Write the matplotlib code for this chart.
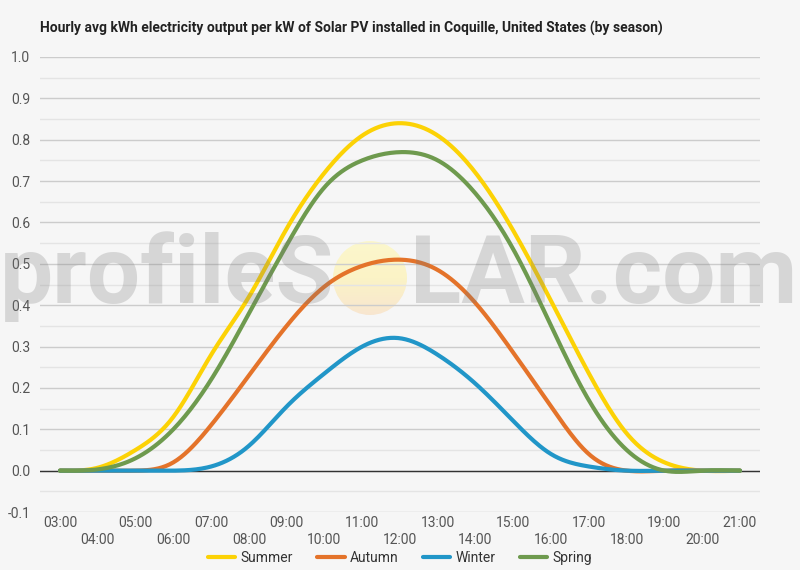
import numpy as np
import matplotlib
matplotlib.use("Agg")
import matplotlib.pyplot as plt
from matplotlib.patches import Ellipse
from matplotlib.colors import LinearSegmentedColormap
from matplotlib.ticker import MultipleLocator

plt.rcParams['font.family'] = ['Roboto', 'DejaVu Sans']

# Hours of the day (03:00 .. 21:00) and seasonal hourly averages (kWh per kW)
hours = list(range(3, 22))
summer = [0.0, 0.007, 0.05, 0.13, 0.28, 0.42, 0.585, 0.72, 0.81, 0.84,
          0.81, 0.72, 0.58, 0.41, 0.235, 0.09, 0.02, 0.0, 0.0]
autumn = [0.0, 0.0, 0.0, 0.02, 0.11, 0.23, 0.35, 0.445, 0.495, 0.51,
          0.485, 0.405, 0.285, 0.155, 0.04, 0.0, 0.0, 0.0, 0.0]
winter = [0.0, 0.0, 0.0, 0.0, 0.01, 0.06, 0.155, 0.235, 0.30, 0.32,
          0.28, 0.21, 0.12, 0.04, 0.01, 0.0, 0.0, 0.0, 0.0]
spring = [0.0, 0.003, 0.03, 0.10, 0.22, 0.38, 0.545, 0.685, 0.75, 0.77,
          0.75, 0.67, 0.535, 0.35, 0.17, 0.05, 0.0, 0.0, 0.0]

series = [("Summer", summer, "#fcd205"),
          ("Autumn", autumn, "#e4732a"),
          ("Winter", winter, "#2196c8"),
          ("Spring", spring, "#6e9a4e")]

title = "Hourly avg kWh electricity output per kW of Solar PV installed in Coquille, United States (by season)"
bg = "#f6f6f6"


# natural cubic spline for drawing the smooth line through the hourly points
def spline(x, y, steps=20):
    x = np.asarray(x, float)
    y = np.asarray(y, float)
    n = len(x)
    h = np.diff(x)
    A = np.zeros((n, n))
    r = np.zeros(n)
    A[0, 0] = A[-1, -1] = 1
    for i in range(1, n - 1):
        A[i, i - 1] = h[i - 1]
        A[i, i] = 2 * (h[i - 1] + h[i])
        A[i, i + 1] = h[i]
        r[i] = 6 * ((y[i + 1] - y[i]) / h[i] - (y[i] - y[i - 1]) / h[i - 1])
    M = np.linalg.solve(A, r)
    xs, ys = [], []
    for i in range(n - 1):
        t = np.linspace(x[i], x[i + 1], steps, endpoint=False)
        a = x[i + 1] - t
        b = t - x[i]
        val = (M[i] * a**3 + M[i + 1] * b**3) / (6 * h[i]) \
            + (y[i] / h[i] - M[i] * h[i] / 6) * a + (y[i + 1] / h[i] - M[i + 1] * h[i] / 6) * b
        xs.append(t)
        ys.append(val)
    xs.append([x[-1]])
    ys.append([y[-1]])
    return np.concatenate(xs), np.concatenate(ys)


fig = plt.figure(figsize=(8, 5.7), dpi=100, facecolor=bg)

# watermark sun: pale gradient disc, behind the chart
sun_ax = fig.add_axes([(370 - 37) / 800, 1 - (278 + 37) / 570, 74 / 800, 74 / 570], zorder=-1)
sun_ax.axis("off")
sun_cmap = LinearSegmentedColormap.from_list("sun", ["#fcf7cc", "#fbf3c6", "#f8e6d0"])
img = sun_ax.imshow(np.linspace(0, 1, 64).reshape(-1, 1), cmap=sun_cmap, aspect="auto",
                    extent=(0, 1, 0, 1), origin="upper")
img.set_clip_path(Ellipse((0.5, 0.5), 1, 1, transform=sun_ax.transAxes))

ax = fig.add_axes([0.05, 1 - 512 / 570, 0.90, (512 - 57) / 570])
ax.set_facecolor("none")

for name, vals, col in series:
    sx, sy = spline(hours, vals)
    ax.plot(sx, sy, color=col, lw=3, label=name, solid_capstyle="round", zorder=3)

ax.set_xlim(2.47, 21.53)
ax.set_ylim(-0.1, 1.0)
ax.yaxis.set_major_locator(MultipleLocator(0.1))
ax.yaxis.set_minor_locator(MultipleLocator(0.05))
ax.grid(which="major", axis="y", color="#cccccc", lw=1, zorder=0)
ax.grid(which="minor", axis="y", color="#e4e4e4", lw=1, zorder=0)
ax.axhline(0, color="#333333", lw=1, zorder=2)
for s in ax.spines.values():
    s.set_visible(False)

ax.set_yticks(np.round(np.arange(-0.1, 1.01, 0.1), 1))
ax.set_yticklabels([f"{v:.1f}" for v in np.arange(-0.1, 1.01, 0.1)])
ax.set_xticks(hours)
ax.set_xticklabels([f"{h:02d}:00" if (h - 3) % 2 == 0 else f"\n{h:02d}:00" for h in hours],
                   linespacing=1.3)
ax.tick_params(axis="both", which="both", length=0, labelsize=10, labelcolor="#555555")
ax.tick_params(axis="y", pad=7)
ax.tick_params(axis="x", pad=3)

fig.text(40 / 800, 1 - 28 / 570, title, fontsize=10, fontweight="bold", color="#222222",
         va="center", ha="left")

# watermark text
wm = dict(fontsize=68, fontweight="bold", color="#7a7a7a", alpha=0.25, va="baseline", zorder=5)
fig.text(334 / 800, 1 - 303 / 570, "profileS", ha="right", **wm)
fig.text(410 / 800, 1 - 303 / 570, "LAR.com", ha="left", **wm)

fig.legend(loc="center", bbox_to_anchor=(0.5, 1 - 558 / 570), ncol=4, frameon=False,
           fontsize=10, handlelength=2.0, handletextpad=0.4, columnspacing=1.7,
           labelcolor="#333333")

fig.savefig("out.png", dpi=100, facecolor=bg)
